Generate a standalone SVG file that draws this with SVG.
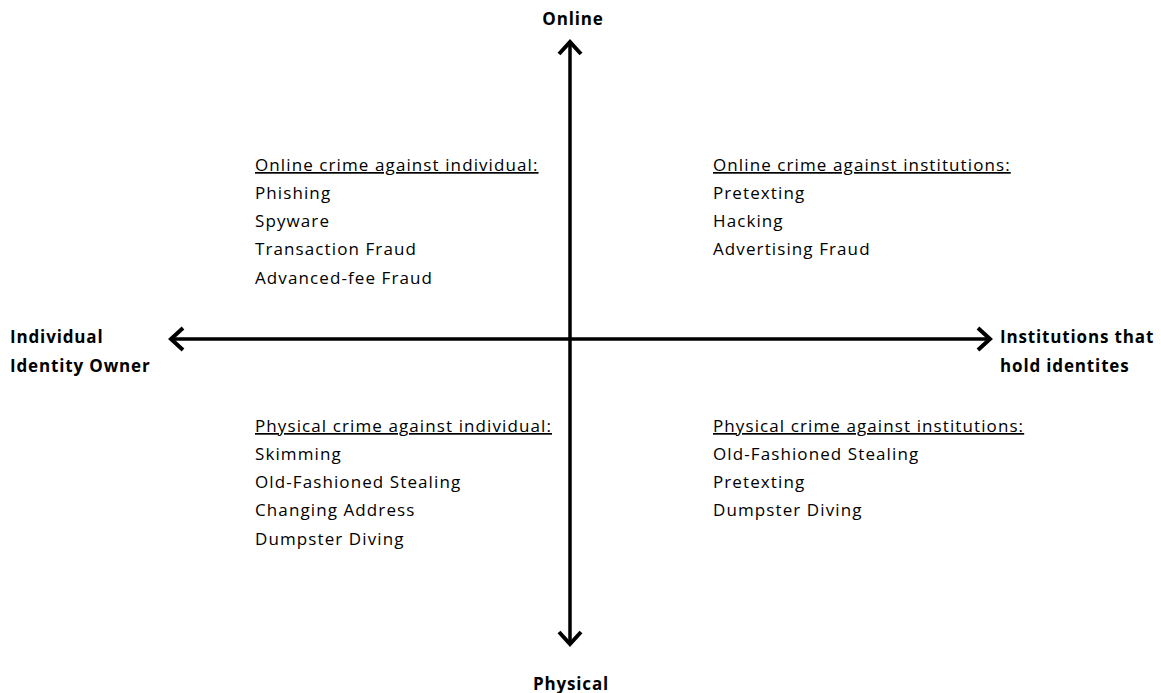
<svg xmlns="http://www.w3.org/2000/svg" width="1161" height="693" viewBox="0 0 1161 693">
<style>
.ax{font-family:"Open Sans","Liberation Sans",sans-serif;font-weight:bold;font-size:17px;letter-spacing:0.85px;fill:#000}
.t{font-family:"Open Sans","Liberation Sans",sans-serif;font-size:17px;letter-spacing:1.1px;fill:#000}
.u{text-decoration:underline}
.line{stroke:#000;stroke-width:3.5;fill:none}
.head{stroke:#000;stroke-width:4;fill:none;stroke-linecap:butt;stroke-linejoin:miter}
</style>
<rect width="1161" height="693" fill="#fff"/>
<g id="connectors">
<line class="line" x1="570" y1="42" x2="570" y2="644"/>
<line class="line" x1="171" y1="339" x2="990" y2="339"/>
<path class="head" d="M559,54 L570,42 L581,54"/>
<path class="head" d="M559,632 L570,644 L581,632"/>
<path class="head" d="M183,328 L171,339 L183,350"/>
<path class="head" d="M978,328 L990,339 L978,350"/>
</g>
<g id="label-online"><text class="ax" x="573" y="25" text-anchor="middle">Online</text></g>
<g id="label-physical"><text class="ax" x="571" y="690" text-anchor="middle">Physical</text></g>
<g id="label-individual"><text class="ax" x="10" y="343">Individual</text><text class="ax" x="10" y="372">Identity Owner</text></g>
<g id="label-institutions"><text class="ax" x="1000" y="343">Institutions that</text><text class="ax" x="1000" y="372">hold identites</text></g>
<g id="q-online-individual">
<text class="t u" x="255" y="171">Online crime against individual:</text>
<text class="t" x="255" y="199">Phishing</text>
<text class="t" x="255" y="227">Spyware</text>
<text class="t" x="255" y="255">Transaction Fraud</text>
<text class="t" x="255" y="284">Advanced-fee Fraud</text>
</g>
<g id="q-online-institutions">
<text class="t u" x="713" y="171">Online crime against institutions:</text>
<text class="t" x="713" y="199">Pretexting</text>
<text class="t" x="713" y="227">Hacking</text>
<text class="t" x="713" y="255">Advertising Fraud</text>
</g>
<g id="q-physical-individual">
<text class="t u" x="255" y="432">Physical crime against individual:</text>
<text class="t" x="255" y="460">Skimming</text>
<text class="t" x="255" y="488">Old-Fashioned Stealing</text>
<text class="t" x="255" y="516">Changing Address</text>
<text class="t" x="255" y="545">Dumpster Diving</text>
</g>
<g id="q-physical-institutions">
<text class="t u" x="713" y="432">Physical crime against institutions:</text>
<text class="t" x="713" y="460">Old-Fashioned Stealing</text>
<text class="t" x="713" y="488">Pretexting</text>
<text class="t" x="713" y="516">Dumpster Diving</text>
</g>
</svg>
